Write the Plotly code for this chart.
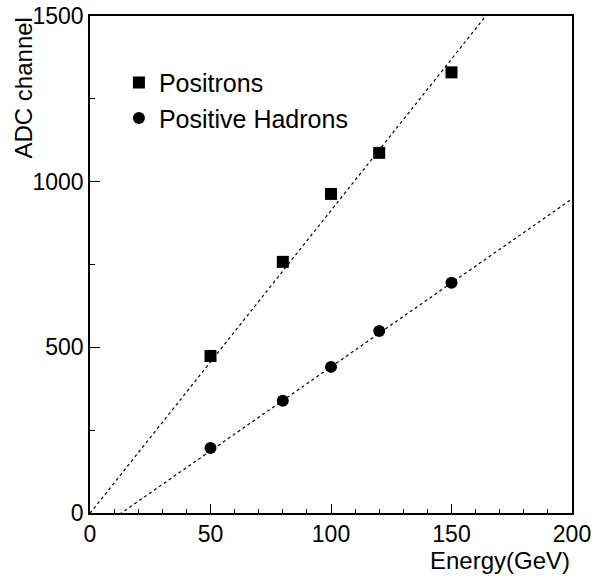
import plotly.graph_objects as go

energy = [50, 80, 100, 120, 150]
positrons_adc = [474, 758, 963, 1087, 1330]
hadrons_adc = [196, 339, 441, 549, 695]

# linear fit parameters (slope, intercept)
positron_fit = (9.14, -1.0)
hadron_fit = (5.07, -66.0)
fit_x = [0, 200]

FONT = "Liberation Sans, Arial, sans-serif"

fig = go.Figure()

for fit in (positron_fit, hadron_fit):
    fig.add_trace(go.Scatter(
        x=fit_x, y=[fit[0] * x + fit[1] for x in fit_x],
        mode="lines", line=dict(color="black", width=1.2, dash="3px,3px"),
        showlegend=False, hoverinfo="skip"))

fig.add_trace(go.Scatter(
    x=energy, y=positrons_adc, mode="markers", name="Positrons",
    legendgroup="a",
    marker=dict(symbol="square", size=12, color="black")))
fig.add_trace(go.Scatter(
    x=energy, y=hadrons_adc, mode="markers", name="Positive Hadrons",
    legendgroup="b",
    marker=dict(symbol="circle", size=12, color="black")))

axis_common = dict(
    showgrid=False, zeroline=False, showline=True, linecolor="black",
    linewidth=1.5, mirror=True, ticks="inside", tickcolor="black",
    automargin=False,
    tickfont=dict(family=FONT, size=23, color="black"),
)

fig.update_xaxes(range=[0, 200], tickvals=[0, 50, 100, 150, 200],
                 ticklen=9, tickwidth=1,
                 minor=dict(dtick=10, ticks="inside", ticklen=4,
                            tickcolor="black", tickwidth=1),
                 **axis_common)
fig.update_yaxes(range=[0, 1500], tickvals=[0, 500, 1000, 1500],
                 ticklen=10, tickwidth=1,
                 minor=dict(dtick=250, ticks="inside", ticklen=5,
                            tickcolor="black", tickwidth=1),
                 **axis_common)

fig.add_annotation(text="Energy(GeV)", xref="paper", yref="paper",
                   x=1.0, y=-0.095, xanchor="right", yanchor="middle",
                   showarrow=False,
                   font=dict(family=FONT, size=24, color="black"))
fig.add_annotation(text="ADC channel", xref="paper", yref="paper",
                   x=-0.139, y=1.0, xanchor="center", yanchor="top",
                   textangle=-90, showarrow=False,
                   font=dict(family=FONT, size=24, color="black"))

fig.update_layout(
    width=596, height=582,
    margin=dict(l=90, r=24, t=16, b=69),
    paper_bgcolor="white", plot_bgcolor="white",
    legend=dict(x=0.06, y=0.912, xanchor="left", yanchor="top",
                bgcolor="rgba(0,0,0,0)", tracegroupgap=0,
                traceorder="grouped",
                font=dict(family=FONT, size=25, color="black")),
)

fig.write_html("out.html")
